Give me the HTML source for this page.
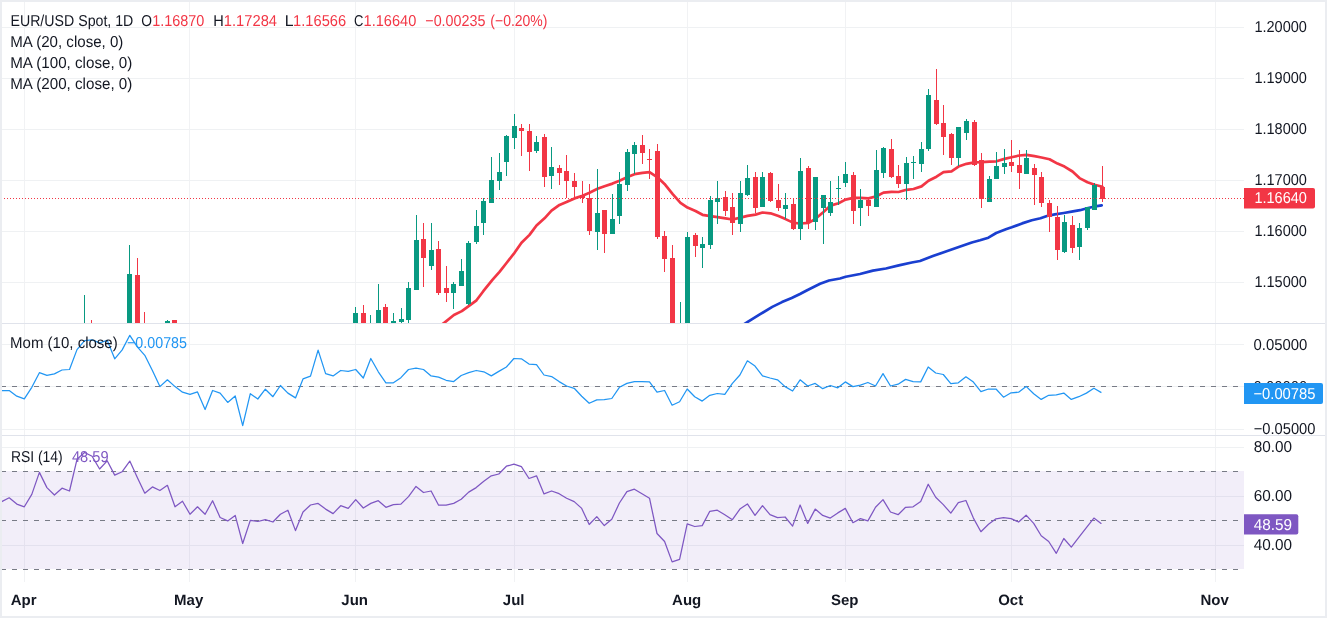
<!DOCTYPE html><html><head><meta charset="utf-8"><style>
html,body{margin:0;padding:0;background:#fff;}
body{width:1327px;height:618px;overflow:hidden;position:relative;}
svg{position:absolute;left:0;top:0;display:block;will-change:transform;}
text{font-family:"Liberation Sans",sans-serif;text-rendering:geometricPrecision;}
</style></head><body>
<svg width="1327" height="618" viewBox="0 0 1327 618">
<defs>
<clipPath id="cp"><rect x="0" y="0" width="1244" height="323"/></clipPath>
<clipPath id="cm"><rect x="0" y="324" width="1244" height="111"/></clipPath>
<clipPath id="cr"><rect x="0" y="437" width="1244" height="145"/></clipPath>
</defs>
<rect x="0" y="0" width="1327" height="618" fill="#fff"/>
<rect x="0" y="27" width="1244" height="1" fill="#eff1f3"/>
<rect x="0" y="78" width="1244" height="1" fill="#eff1f3"/>
<rect x="0" y="129" width="1244" height="1" fill="#eff1f3"/>
<rect x="0" y="180" width="1244" height="1" fill="#eff1f3"/>
<rect x="0" y="231" width="1244" height="1" fill="#eff1f3"/>
<rect x="0" y="282" width="1244" height="1" fill="#eff1f3"/>
<rect x="0" y="344" width="1244" height="1" fill="#eff1f3"/>
<rect x="0" y="386" width="1244" height="1" fill="#eff1f3"/>
<rect x="0" y="429" width="1244" height="1" fill="#eff1f3"/>
<rect x="0" y="447" width="1244" height="1" fill="#eff1f3"/>
<rect x="0" y="496" width="1244" height="1" fill="#eff1f3"/>
<rect x="0" y="545" width="1244" height="1" fill="#eff1f3"/>
<rect x="24" y="0" width="1" height="582" fill="#eff1f3" fill-opacity="0.9"/>
<rect x="189" y="0" width="1" height="582" fill="#eff1f3" fill-opacity="0.9"/>
<rect x="355" y="0" width="1" height="582" fill="#eff1f3" fill-opacity="0.9"/>
<rect x="514" y="0" width="1" height="582" fill="#eff1f3" fill-opacity="0.9"/>
<rect x="687" y="0" width="1" height="582" fill="#eff1f3" fill-opacity="0.9"/>
<rect x="845" y="0" width="1" height="582" fill="#eff1f3" fill-opacity="0.9"/>
<rect x="1011" y="0" width="1" height="582" fill="#eff1f3" fill-opacity="0.9"/>
<rect x="1215" y="0" width="1" height="582" fill="#eff1f3" fill-opacity="0.9"/>
<rect x="0" y="471" width="1244" height="98" fill="#7e57c2" fill-opacity="0.1"/>
<line x1="1" y1="386.5" x2="1244" y2="386.5" stroke="#787b86" stroke-width="1" stroke-dasharray="5 6"/>
<line x1="1" y1="471.5" x2="1244" y2="471.5" stroke="#787b86" stroke-width="1" stroke-dasharray="5 6"/>
<line x1="1" y1="520.5" x2="1244" y2="520.5" stroke="#787b86" stroke-width="1" stroke-dasharray="5 6"/>
<line x1="1" y1="569.5" x2="1244" y2="569.5" stroke="#787b86" stroke-width="1" stroke-dasharray="5 6"/>
<rect x="0" y="323" width="1327" height="1" fill="#e0e3eb"/>
<rect x="0" y="435" width="1327" height="1" fill="#e0e3eb"/>
<g clip-path="url(#cp)">
<polyline points="430.0,333.0 444.8,322.4 453.9,315.0 461.8,311.1 469.7,305.4 476.5,300.3 483.3,291.2 492.4,279.9 499.5,271.9 506.5,263.0 514.5,252.8 521.5,242.8 529.5,234.9 536.5,225.5 544.5,218.3 551.5,210.7 559.5,204.9 566.5,202.0 574.5,198.4 582.5,195.8 589.5,192.7 597.5,188.8 604.5,186.2 612.5,183.6 619.5,180.7 627.5,177.0 634.5,174.2 642.5,172.8 649.5,172.2 657.5,177.3 664.5,183.9 672.5,193.9 680.5,202.8 687.5,207.6 695.5,211.0 702.5,214.8 710.5,216.2 717.5,217.1 725.5,218.3 732.5,219.5 740.5,217.6 747.5,215.9 755.5,214.6 762.5,212.5 770.5,213.3 778.5,216.1 785.5,219.1 793.5,222.9 800.5,223.5 808.5,222.8 815.5,218.8 823.5,212.0 830.5,205.6 838.5,203.2 845.5,199.6 853.5,197.9 860.5,197.9 868.5,198.4 876.5,196.3 883.5,192.6 891.5,191.8 898.5,192.0 906.5,189.8 913.5,189.0 921.5,186.4 928.5,180.8 936.5,176.7 943.5,172.1 951.5,171.4 958.5,166.6 966.5,163.8 974.5,162.3 981.5,162.2 989.5,161.7 996.5,161.3 1004.5,158.9 1011.5,157.2 1019.5,155.5 1026.5,154.9 1034.5,156.2 1041.5,157.5 1049.5,159.2 1057.5,163.6 1064.5,166.6 1072.5,171.5 1079.5,178.1 1087.5,182.3 1094.5,184.8 1102.5,186.8" fill="none" stroke="#f23645" stroke-width="2.7" stroke-linejoin="round" stroke-linecap="round"/>
<polyline points="735.0,330.0 747.7,321.9 760.2,314.2 772.3,306.9 782.0,302.1 791.7,298.0 800.0,294.0 807.6,290.0 820.1,283.8 829.0,280.5 840.0,278.5 845.7,276.8 860.0,274.0 872.9,270.6 885.9,268.5 898.8,265.4 911.8,262.5 920.0,261.0 932.9,256.1 945.9,251.5 958.8,247.0 971.8,242.5 980.0,240.3 988.4,237.7 996.2,233.0 1005.9,229.3 1011.7,227.3 1022.1,223.4 1031.8,220.2 1040.5,218.3 1047.0,216.0 1054.8,214.4 1063.8,213.0 1071.6,211.7 1080.0,210.2 1087.1,208.3 1093.6,206.7 1101.7,205.4" fill="none" stroke="#1a3fd0" stroke-width="2.7" stroke-linejoin="round" stroke-linecap="round"/>
</g>
<g clip-path="url(#cp)">
<rect x="84" y="295" width="1" height="50" fill="#089981"/>
<rect x="82" y="330" width="5" height="10" fill="#089981"/>
<rect x="91" y="320" width="1" height="25" fill="#f23645"/>
<rect x="89" y="330" width="5" height="10" fill="#f23645"/>
<rect x="129" y="245" width="1" height="100" fill="#089981"/>
<rect x="127" y="274" width="5" height="66" fill="#089981"/>
<rect x="137" y="258" width="1" height="87" fill="#f23645"/>
<rect x="135" y="275" width="5" height="65" fill="#f23645"/>
<rect x="144" y="312" width="1" height="33" fill="#f23645"/>
<rect x="142" y="330" width="5" height="10" fill="#f23645"/>
<rect x="167" y="320" width="1" height="25" fill="#089981"/>
<rect x="165" y="321" width="5" height="19" fill="#089981"/>
<rect x="174" y="320" width="1" height="25" fill="#f23645"/>
<rect x="172" y="320" width="5" height="20" fill="#f23645"/>
<rect x="355" y="307" width="1" height="23" fill="#089981"/>
<rect x="353" y="313" width="5" height="17" fill="#089981"/>
<rect x="363" y="305" width="1" height="25" fill="#f23645"/>
<rect x="361" y="313" width="5" height="17" fill="#f23645"/>
<rect x="370" y="315" width="1" height="20" fill="#089981"/>
<rect x="368" y="330" width="5" height="5" fill="#089981"/>
<rect x="378" y="284" width="1" height="46" fill="#089981"/>
<rect x="376" y="310" width="5" height="20" fill="#089981"/>
<rect x="385" y="304" width="1" height="26" fill="#f23645"/>
<rect x="383" y="307" width="5" height="23" fill="#f23645"/>
<rect x="393" y="313" width="1" height="17" fill="#089981"/>
<rect x="391" y="321" width="5" height="9" fill="#089981"/>
<rect x="401" y="308" width="1" height="15" fill="#089981"/>
<rect x="399" y="319" width="5" height="3" fill="#089981"/>
<rect x="408" y="282" width="1" height="41" fill="#089981"/>
<rect x="406" y="288" width="5" height="32" fill="#089981"/>
<rect x="416" y="215" width="1" height="75" fill="#089981"/>
<rect x="414" y="240" width="5" height="50" fill="#089981"/>
<rect x="423" y="223" width="1" height="64" fill="#f23645"/>
<rect x="421" y="239" width="5" height="19" fill="#f23645"/>
<rect x="431" y="223" width="1" height="47" fill="#089981"/>
<rect x="429" y="250" width="5" height="16" fill="#089981"/>
<rect x="438" y="241" width="1" height="54" fill="#f23645"/>
<rect x="436" y="249" width="5" height="44" fill="#f23645"/>
<rect x="446" y="266" width="1" height="36" fill="#f23645"/>
<rect x="444" y="288" width="5" height="5" fill="#f23645"/>
<rect x="453" y="282" width="1" height="27" fill="#089981"/>
<rect x="451" y="284" width="5" height="9" fill="#089981"/>
<rect x="461" y="259" width="1" height="27" fill="#089981"/>
<rect x="459" y="271" width="5" height="15" fill="#089981"/>
<rect x="468" y="241" width="1" height="64" fill="#089981"/>
<rect x="466" y="243" width="5" height="61" fill="#089981"/>
<rect x="476" y="210" width="1" height="34" fill="#089981"/>
<rect x="474" y="226" width="5" height="16" fill="#089981"/>
<rect x="483" y="198" width="1" height="37" fill="#089981"/>
<rect x="481" y="201" width="5" height="22" fill="#089981"/>
<rect x="491" y="157" width="1" height="46" fill="#089981"/>
<rect x="489" y="180" width="5" height="23" fill="#089981"/>
<rect x="499" y="153" width="1" height="37" fill="#089981"/>
<rect x="497" y="172" width="5" height="9" fill="#089981"/>
<rect x="506" y="135" width="1" height="41" fill="#089981"/>
<rect x="504" y="136" width="5" height="26" fill="#089981"/>
<rect x="514" y="114" width="1" height="35" fill="#089981"/>
<rect x="512" y="126" width="5" height="12" fill="#089981"/>
<rect x="521" y="124" width="1" height="32" fill="#f23645"/>
<rect x="519" y="128" width="5" height="3" fill="#f23645"/>
<rect x="529" y="124" width="1" height="47" fill="#f23645"/>
<rect x="527" y="131" width="5" height="21" fill="#f23645"/>
<rect x="536" y="136" width="1" height="17" fill="#089981"/>
<rect x="534" y="142" width="5" height="9" fill="#089981"/>
<rect x="544" y="134" width="1" height="53" fill="#f23645"/>
<rect x="542" y="137" width="5" height="40" fill="#f23645"/>
<rect x="551" y="147" width="1" height="42" fill="#089981"/>
<rect x="549" y="167" width="5" height="9" fill="#089981"/>
<rect x="559" y="165" width="1" height="20" fill="#f23645"/>
<rect x="557" y="168" width="5" height="5" fill="#f23645"/>
<rect x="566" y="155" width="1" height="43" fill="#f23645"/>
<rect x="564" y="171" width="5" height="10" fill="#f23645"/>
<rect x="574" y="173" width="1" height="25" fill="#f23645"/>
<rect x="572" y="181" width="5" height="6" fill="#f23645"/>
<rect x="582" y="181" width="1" height="22" fill="#f23645"/>
<rect x="580" y="195" width="5" height="3" fill="#f23645"/>
<rect x="589" y="184" width="1" height="51" fill="#f23645"/>
<rect x="587" y="198" width="5" height="33" fill="#f23645"/>
<rect x="597" y="169" width="1" height="81" fill="#089981"/>
<rect x="595" y="213" width="5" height="19" fill="#089981"/>
<rect x="604" y="210" width="1" height="43" fill="#f23645"/>
<rect x="602" y="210" width="5" height="24" fill="#f23645"/>
<rect x="612" y="194" width="1" height="40" fill="#089981"/>
<rect x="610" y="219" width="5" height="15" fill="#089981"/>
<rect x="619" y="172" width="1" height="52" fill="#089981"/>
<rect x="617" y="184" width="5" height="32" fill="#089981"/>
<rect x="627" y="149" width="1" height="42" fill="#089981"/>
<rect x="625" y="152" width="5" height="33" fill="#089981"/>
<rect x="634" y="142" width="1" height="32" fill="#089981"/>
<rect x="632" y="145" width="5" height="9" fill="#089981"/>
<rect x="642" y="135" width="1" height="29" fill="#f23645"/>
<rect x="640" y="145" width="5" height="8" fill="#f23645"/>
<rect x="649" y="149" width="1" height="30" fill="#f23645"/>
<rect x="647" y="159" width="5" height="1" fill="#f23645"/>
<rect x="657" y="144" width="1" height="95" fill="#f23645"/>
<rect x="655" y="151" width="5" height="86" fill="#f23645"/>
<rect x="664" y="231" width="1" height="41" fill="#f23645"/>
<rect x="662" y="236" width="5" height="23" fill="#f23645"/>
<rect x="672" y="245" width="1" height="85" fill="#f23645"/>
<rect x="670" y="258" width="5" height="72" fill="#f23645"/>
<rect x="680" y="302" width="1" height="33" fill="#089981"/>
<rect x="678" y="330" width="5" height="5" fill="#089981"/>
<rect x="687" y="232" width="1" height="98" fill="#089981"/>
<rect x="685" y="237" width="5" height="93" fill="#089981"/>
<rect x="695" y="233" width="1" height="24" fill="#f23645"/>
<rect x="693" y="235" width="5" height="11" fill="#f23645"/>
<rect x="702" y="237" width="1" height="31" fill="#089981"/>
<rect x="700" y="244" width="5" height="4" fill="#089981"/>
<rect x="710" y="196" width="1" height="53" fill="#089981"/>
<rect x="708" y="200" width="5" height="45" fill="#089981"/>
<rect x="717" y="181" width="1" height="43" fill="#089981"/>
<rect x="715" y="198" width="5" height="4" fill="#089981"/>
<rect x="725" y="191" width="1" height="25" fill="#f23645"/>
<rect x="723" y="197" width="5" height="14" fill="#f23645"/>
<rect x="732" y="193" width="1" height="42" fill="#f23645"/>
<rect x="730" y="207" width="5" height="16" fill="#f23645"/>
<rect x="740" y="181" width="1" height="51" fill="#089981"/>
<rect x="738" y="193" width="5" height="31" fill="#089981"/>
<rect x="747" y="165" width="1" height="31" fill="#089981"/>
<rect x="745" y="178" width="5" height="17" fill="#089981"/>
<rect x="755" y="172" width="1" height="41" fill="#f23645"/>
<rect x="753" y="177" width="5" height="31" fill="#f23645"/>
<rect x="762" y="172" width="1" height="35" fill="#089981"/>
<rect x="760" y="177" width="5" height="30" fill="#089981"/>
<rect x="770" y="172" width="1" height="30" fill="#f23645"/>
<rect x="768" y="173" width="5" height="28" fill="#f23645"/>
<rect x="778" y="184" width="1" height="27" fill="#f23645"/>
<rect x="776" y="200" width="5" height="8" fill="#f23645"/>
<rect x="785" y="193" width="1" height="26" fill="#089981"/>
<rect x="783" y="205" width="5" height="4" fill="#089981"/>
<rect x="793" y="198" width="1" height="32" fill="#f23645"/>
<rect x="791" y="204" width="5" height="25" fill="#f23645"/>
<rect x="800" y="158" width="1" height="82" fill="#089981"/>
<rect x="798" y="171" width="5" height="58" fill="#089981"/>
<rect x="808" y="166" width="1" height="63" fill="#f23645"/>
<rect x="806" y="168" width="5" height="55" fill="#f23645"/>
<rect x="815" y="177" width="1" height="53" fill="#089981"/>
<rect x="813" y="177" width="5" height="45" fill="#089981"/>
<rect x="823" y="195" width="1" height="49" fill="#089981"/>
<rect x="821" y="195" width="5" height="13" fill="#089981"/>
<rect x="830" y="181" width="1" height="35" fill="#089981"/>
<rect x="828" y="202" width="5" height="11" fill="#089981"/>
<rect x="838" y="176" width="1" height="29" fill="#089981"/>
<rect x="836" y="188" width="5" height="1" fill="#089981"/>
<rect x="845" y="162" width="1" height="25" fill="#089981"/>
<rect x="843" y="174" width="5" height="9" fill="#089981"/>
<rect x="853" y="172" width="1" height="52" fill="#f23645"/>
<rect x="851" y="175" width="5" height="36" fill="#f23645"/>
<rect x="860" y="189" width="1" height="37" fill="#089981"/>
<rect x="858" y="200" width="5" height="8" fill="#089981"/>
<rect x="868" y="197" width="1" height="19" fill="#f23645"/>
<rect x="866" y="200" width="5" height="6" fill="#f23645"/>
<rect x="876" y="150" width="1" height="57" fill="#089981"/>
<rect x="874" y="170" width="5" height="37" fill="#089981"/>
<rect x="883" y="147" width="1" height="31" fill="#089981"/>
<rect x="881" y="148" width="5" height="25" fill="#089981"/>
<rect x="891" y="139" width="1" height="39" fill="#f23645"/>
<rect x="889" y="149" width="5" height="28" fill="#f23645"/>
<rect x="898" y="165" width="1" height="23" fill="#f23645"/>
<rect x="896" y="176" width="5" height="8" fill="#f23645"/>
<rect x="906" y="157" width="1" height="43" fill="#089981"/>
<rect x="904" y="163" width="5" height="21" fill="#089981"/>
<rect x="913" y="156" width="1" height="23" fill="#089981"/>
<rect x="911" y="162" width="5" height="1" fill="#089981"/>
<rect x="921" y="142" width="1" height="30" fill="#089981"/>
<rect x="919" y="149" width="5" height="15" fill="#089981"/>
<rect x="928" y="89" width="1" height="62" fill="#089981"/>
<rect x="926" y="95" width="5" height="54" fill="#089981"/>
<rect x="936" y="69" width="1" height="56" fill="#f23645"/>
<rect x="934" y="100" width="5" height="24" fill="#f23645"/>
<rect x="943" y="105" width="1" height="50" fill="#f23645"/>
<rect x="941" y="123" width="5" height="14" fill="#f23645"/>
<rect x="951" y="133" width="1" height="32" fill="#f23645"/>
<rect x="949" y="134" width="5" height="24" fill="#f23645"/>
<rect x="958" y="127" width="1" height="39" fill="#089981"/>
<rect x="956" y="127" width="5" height="31" fill="#089981"/>
<rect x="966" y="119" width="1" height="21" fill="#089981"/>
<rect x="964" y="121" width="5" height="12" fill="#089981"/>
<rect x="974" y="120" width="1" height="46" fill="#f23645"/>
<rect x="972" y="122" width="5" height="43" fill="#f23645"/>
<rect x="981" y="153" width="1" height="55" fill="#f23645"/>
<rect x="979" y="160" width="5" height="39" fill="#f23645"/>
<rect x="989" y="176" width="1" height="26" fill="#089981"/>
<rect x="987" y="179" width="5" height="23" fill="#089981"/>
<rect x="996" y="152" width="1" height="27" fill="#089981"/>
<rect x="994" y="166" width="5" height="13" fill="#089981"/>
<rect x="1004" y="149" width="1" height="25" fill="#089981"/>
<rect x="1002" y="163" width="5" height="4" fill="#089981"/>
<rect x="1011" y="140" width="1" height="32" fill="#f23645"/>
<rect x="1009" y="162" width="5" height="4" fill="#f23645"/>
<rect x="1019" y="150" width="1" height="39" fill="#f23645"/>
<rect x="1017" y="165" width="5" height="8" fill="#f23645"/>
<rect x="1026" y="150" width="1" height="24" fill="#089981"/>
<rect x="1024" y="158" width="5" height="16" fill="#089981"/>
<rect x="1034" y="164" width="1" height="41" fill="#f23645"/>
<rect x="1032" y="168" width="5" height="7" fill="#f23645"/>
<rect x="1041" y="172" width="1" height="35" fill="#f23645"/>
<rect x="1039" y="177" width="5" height="26" fill="#f23645"/>
<rect x="1049" y="200" width="1" height="32" fill="#f23645"/>
<rect x="1047" y="203" width="5" height="14" fill="#f23645"/>
<rect x="1057" y="206" width="1" height="54" fill="#f23645"/>
<rect x="1055" y="217" width="5" height="33" fill="#f23645"/>
<rect x="1064" y="215" width="1" height="38" fill="#089981"/>
<rect x="1062" y="222" width="5" height="30" fill="#089981"/>
<rect x="1072" y="216" width="1" height="37" fill="#f23645"/>
<rect x="1070" y="225" width="5" height="23" fill="#f23645"/>
<rect x="1079" y="223" width="1" height="37" fill="#089981"/>
<rect x="1077" y="228" width="5" height="19" fill="#089981"/>
<rect x="1087" y="207" width="1" height="23" fill="#089981"/>
<rect x="1085" y="207" width="5" height="21" fill="#089981"/>
<rect x="1094" y="183" width="1" height="27" fill="#089981"/>
<rect x="1092" y="185" width="5" height="25" fill="#089981"/>
<rect x="1102" y="166" width="1" height="36" fill="#f23645"/>
<rect x="1100" y="187" width="5" height="12" fill="#f23645"/>
</g>
<line x1="1" y1="198.5" x2="1244" y2="198.5" stroke="#f23645" stroke-width="1" stroke-dasharray="1 2"/>
<g clip-path="url(#cm)">
<polyline points="0.0,390.5 1.7,390.5 9.2,390.5 16.8,396.2 24.3,398.8 31.8,387.3 39.4,372.7 46.9,375.3 54.4,373.9 62.0,370.0 69.5,369.5 77.0,349.6 84.6,340.7 92.1,339.8 99.6,342.8 107.2,340.3 114.7,358.8 122.2,349.9 129.8,335.3 137.3,346.9 144.8,355.3 152.4,370.5 159.9,386.6 167.4,379.8 175.0,386.6 182.5,392.2 190.0,394.4 197.5,391.9 205.1,409.5 212.6,390.5 220.1,393.1 227.7,402.4 235.2,396.0 242.7,425.7 250.3,393.7 257.8,399.0 265.3,389.2 272.9,396.7 280.4,385.5 287.9,393.1 295.5,397.9 303.0,378.9 310.5,376.2 318.1,350.1 325.6,373.6 333.1,375.9 340.7,370.5 348.2,371.3 355.7,369.5 363.3,378.0 370.8,358.5 378.3,371.8 385.9,382.8 393.4,382.8 400.9,377.7 408.5,369.5 416.0,368.2 423.5,369.5 431.1,375.9 438.6,377.1 446.1,380.3 453.7,381.6 461.2,375.5 468.7,372.7 476.2,370.5 483.8,371.8 491.3,375.9 498.8,371.4 506.4,367.0 513.9,358.5 521.4,358.8 529.0,364.1 536.5,364.7 544.0,375.0 551.6,376.6 559.1,381.6 566.6,386.0 574.2,388.3 581.7,396.2 589.2,403.3 596.8,399.9 604.3,399.7 611.8,398.5 619.4,387.3 626.9,383.4 634.4,381.6 642.0,381.6 649.5,381.9 657.0,392.2 664.6,390.5 672.1,405.2 679.6,401.7 687.2,389.0 694.7,396.7 702.2,401.1 709.8,395.3 717.3,393.5 724.8,394.4 732.4,383.4 739.9,375.0 747.4,360.8 755.0,366.1 762.5,375.9 770.0,378.0 777.5,379.8 785.1,386.6 792.6,391.0 800.1,379.8 807.7,386.0 815.2,383.4 822.7,388.7 830.3,385.5 837.8,387.8 845.3,381.9 852.9,386.6 860.4,385.1 867.9,382.5 875.5,386.0 883.0,373.6 890.5,386.0 898.1,384.2 905.6,379.4 913.1,381.6 920.7,381.9 928.2,367.0 935.7,373.0 943.3,374.5 950.8,383.7 958.3,382.8 965.9,376.8 973.4,382.1 980.9,391.7 988.5,389.0 996.0,389.0 1003.5,397.2 1011.1,392.8 1018.6,392.2 1026.1,386.4 1033.7,393.7 1041.2,399.4 1048.7,395.3 1056.3,394.9 1063.8,393.1 1071.3,399.4 1078.8,396.7 1086.4,393.1 1093.9,388.3 1101.4,392.6" fill="none" stroke="#2196f3" stroke-width="1.25" stroke-linejoin="round"/>
</g>
<g clip-path="url(#cr)">
<polyline points="0.0,501.6 1.7,501.6 9.2,497.8 16.8,504.1 24.3,506.8 31.8,494.4 39.4,472.4 46.9,487.6 54.4,495.0 62.0,488.2 69.5,491.0 77.0,459.3 84.6,452.5 92.1,456.3 99.6,469.0 107.2,460.8 114.7,475.1 122.2,471.7 129.8,461.1 137.3,477.4 144.8,493.2 152.4,486.9 159.9,490.5 167.4,485.3 175.0,506.8 182.5,501.2 190.0,514.3 197.5,506.8 205.1,514.3 212.6,500.7 220.1,517.5 227.7,520.9 235.2,515.4 242.7,543.5 250.3,520.4 257.8,521.5 265.3,519.7 272.9,522.0 280.4,514.3 287.9,510.2 295.5,530.6 303.0,512.0 310.5,505.0 318.1,503.4 325.6,509.1 333.1,513.6 340.7,505.7 348.2,508.4 355.7,499.6 363.3,508.0 370.8,503.4 378.3,500.7 385.9,507.3 393.4,504.6 400.9,504.1 408.5,496.6 416.0,486.4 423.5,492.5 431.1,491.0 438.6,505.2 446.1,505.2 453.7,503.4 461.2,499.3 468.7,492.1 476.2,487.6 483.8,481.2 491.3,475.8 498.8,474.0 506.4,466.2 513.9,464.2 521.4,466.7 529.0,478.5 536.5,475.8 544.0,493.9 551.6,491.0 559.1,493.7 566.6,498.2 574.2,501.6 581.7,508.4 589.2,524.5 596.8,516.6 604.3,525.6 611.8,519.3 619.4,503.0 626.9,491.6 634.4,489.2 642.0,493.7 649.5,498.2 657.0,533.5 664.6,541.5 672.1,561.9 679.6,559.4 687.2,523.8 694.7,526.5 702.2,525.6 709.8,511.3 717.3,510.2 724.8,514.7 732.4,519.7 739.9,509.1 747.4,503.9 755.0,515.4 762.5,505.7 770.0,514.7 777.5,517.7 785.1,517.0 792.6,526.1 800.1,505.0 807.7,523.4 815.2,509.1 822.7,515.4 830.3,518.1 837.8,512.9 845.3,508.4 852.9,522.7 860.4,518.6 867.9,520.9 875.5,507.3 883.0,499.6 890.5,512.0 898.1,514.7 905.6,507.3 913.1,506.8 920.7,501.6 928.2,484.2 935.7,497.3 943.3,504.6 950.8,513.2 958.3,502.7 965.9,500.5 973.4,518.1 980.9,531.7 988.5,524.3 996.0,518.8 1003.5,517.7 1011.1,518.6 1018.6,522.0 1026.1,515.2 1033.7,523.4 1041.2,535.8 1048.7,541.5 1056.3,553.3 1063.8,538.5 1071.3,547.1 1078.8,537.4 1086.4,527.7 1093.9,518.1 1101.4,523.8" fill="none" stroke="#7e57c2" stroke-width="1.25" stroke-linejoin="round"/>
</g>
<text x="10.45" y="26" fill="#131722" font-size="15.8" textLength="122.9" lengthAdjust="spacingAndGlyphs">EUR/USD Spot, 1D</text>
<text x="141.23" y="26" fill="#131722" font-size="15.8" textLength="10.73" lengthAdjust="spacingAndGlyphs">O</text>
<text x="152.19" y="26" fill="#f23645" font-size="15.8" textLength="52.21" lengthAdjust="spacingAndGlyphs">1.16870</text>
<text x="213.18" y="26" fill="#131722" font-size="15.8" textLength="10.53" lengthAdjust="spacingAndGlyphs">H</text>
<text x="223.87" y="26" fill="#f23645" font-size="15.8" textLength="53.16" lengthAdjust="spacingAndGlyphs">1.17284</text>
<text x="284.7" y="26" fill="#131722" font-size="15.8" textLength="8.8" lengthAdjust="spacingAndGlyphs">L</text>
<text x="293.07" y="26" fill="#f23645" font-size="15.8" textLength="53.06" lengthAdjust="spacingAndGlyphs">1.16566</text>
<text x="353.98" y="26" fill="#131722" font-size="15.8" textLength="9.37" lengthAdjust="spacingAndGlyphs">C</text>
<text x="363.58" y="26" fill="#f23645" font-size="15.8" textLength="52.72" lengthAdjust="spacingAndGlyphs">1.16640</text>
<text x="425.29" y="26" fill="#f23645" font-size="15.8" textLength="60.1" lengthAdjust="spacingAndGlyphs">−0.00235</text>
<text x="490.31" y="26" fill="#f23645" font-size="15.8" textLength="57.17" lengthAdjust="spacingAndGlyphs">(−0.20%)</text>
<text x="10.14" y="46.9" fill="#131722" font-size="15.8" textLength="113.26" lengthAdjust="spacingAndGlyphs">MA (20, close, 0)</text>
<text x="10.14" y="67.7" fill="#131722" font-size="15.8" textLength="122.22" lengthAdjust="spacingAndGlyphs">MA (100, close, 0)</text>
<text x="10.14" y="88.5" fill="#131722" font-size="15.8" textLength="122.22" lengthAdjust="spacingAndGlyphs">MA (200, close, 0)</text>
<text x="10.05" y="348" fill="#131722" font-size="15.8" textLength="107.64" lengthAdjust="spacingAndGlyphs">Mom (10, close)</text>
<text x="127.0" y="348" fill="#2196f3" font-size="15.8" textLength="60.0" lengthAdjust="spacingAndGlyphs">−0.00785</text>
<text x="10.92" y="461.7" fill="#131722" font-size="15.8" textLength="51.81" lengthAdjust="spacingAndGlyphs">RSI (14)</text>
<text x="71.9" y="461.7" fill="#7e57c2" font-size="15.8" textLength="36.69" lengthAdjust="spacingAndGlyphs">48.59</text>
<text x="1254.38" y="32.3" fill="#131722" font-size="15.8" textLength="52.52" lengthAdjust="spacingAndGlyphs">1.20000</text>
<text x="1254.38" y="83.3" fill="#131722" font-size="15.8" textLength="52.52" lengthAdjust="spacingAndGlyphs">1.19000</text>
<text x="1254.38" y="134.3" fill="#131722" font-size="15.8" textLength="52.52" lengthAdjust="spacingAndGlyphs">1.18000</text>
<text x="1254.38" y="185.3" fill="#131722" font-size="15.8" textLength="52.52" lengthAdjust="spacingAndGlyphs">1.17000</text>
<text x="1254.38" y="236.3" fill="#131722" font-size="15.8" textLength="52.52" lengthAdjust="spacingAndGlyphs">1.16000</text>
<text x="1254.38" y="287.3" fill="#131722" font-size="15.8" textLength="52.52" lengthAdjust="spacingAndGlyphs">1.15000</text>
<text x="1253.46" y="349.6" fill="#131722" font-size="15.8" textLength="53.85" lengthAdjust="spacingAndGlyphs">0.05000</text>
<text x="1253.46" y="391.5" fill="#131722" font-size="15.8" textLength="53.85" lengthAdjust="spacingAndGlyphs">0.00000</text>
<text x="1253.67" y="433.8" fill="#131722" font-size="15.8" textLength="61.84" lengthAdjust="spacingAndGlyphs">−0.05000</text>
<text x="1253.63" y="451.5" fill="#131722" font-size="15.8" textLength="38.39" lengthAdjust="spacingAndGlyphs">80.00</text>
<text x="1253.63" y="500.7" fill="#131722" font-size="15.8" textLength="38.39" lengthAdjust="spacingAndGlyphs">60.00</text>
<text x="1253.63" y="549.6" fill="#131722" font-size="15.8" textLength="38.39" lengthAdjust="spacingAndGlyphs">40.00</text>
<path d="M1244,188 H1313 a2,2 0 0 1 2,2 V206.5 a2,2 0 0 1 -2,2 H1244 Z" fill="#f23645"/>
<text x="1254.38" y="203.4" fill="#fff" font-size="15.8" textLength="52.52" lengthAdjust="spacingAndGlyphs">1.16640</text>
<path d="M1244,383 H1321 a2,2 0 0 1 2,2 V402 a2,2 0 0 1 -2,2 H1244 Z" fill="#2196f3"/>
<text x="1253.46" y="398.6" fill="#fff" font-size="15.8" textLength="62.04" lengthAdjust="spacingAndGlyphs">−0.00785</text>
<path d="M1244,514.3 H1296.3 a2,2 0 0 1 2,2 V532.6 a2,2 0 0 1 -2,2 H1244 Z" fill="#7e57c2"/>
<text x="1253.63" y="529.6" fill="#fff" font-size="15.8" textLength="38.39" lengthAdjust="spacingAndGlyphs">48.59</text>
<text x="23.7" y="604.9" fill="#131722" font-size="15" font-weight="bold" text-anchor="middle">Apr</text>
<text x="188.7" y="604.9" fill="#131722" font-size="15" font-weight="bold" text-anchor="middle">May</text>
<text x="354.7" y="604.9" fill="#131722" font-size="15" font-weight="bold" text-anchor="middle">Jun</text>
<text x="513.7" y="604.9" fill="#131722" font-size="15" font-weight="bold" text-anchor="middle">Jul</text>
<text x="686.7" y="604.9" fill="#131722" font-size="15" font-weight="bold" text-anchor="middle">Aug</text>
<text x="844.7" y="604.9" fill="#131722" font-size="15" font-weight="bold" text-anchor="middle">Sep</text>
<text x="1010.7" y="604.9" fill="#131722" font-size="15" font-weight="bold" text-anchor="middle">Oct</text>
<text x="1214.7" y="604.9" fill="#131722" font-size="15" font-weight="bold" text-anchor="middle">Nov</text>
<rect x="0" y="0" width="1327" height="2" fill="#ebedf1"/>
<rect x="0" y="616" width="1327" height="2" fill="#ebedf1"/>
<rect x="0" y="0" width="2" height="618" fill="#ebedf1"/>
<rect x="1325" y="0" width="2" height="618" fill="#ebedf1"/>
</svg></body></html>
